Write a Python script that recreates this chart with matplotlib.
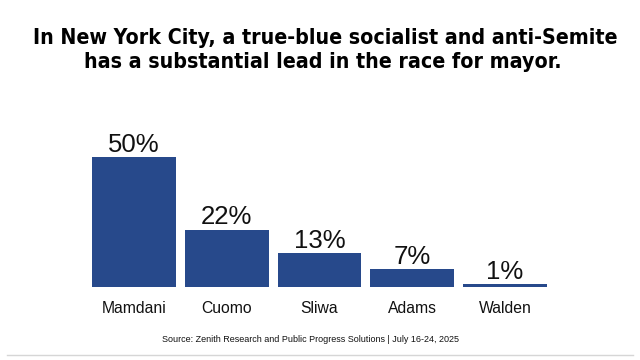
import matplotlib
matplotlib.use("Agg")
import matplotlib.pyplot as plt
from matplotlib.lines import Line2D

# Poll data
candidates = ["Mamdani", "Cuomo", "Sliwa", "Adams", "Walden"]
support = [50, 22, 13, 7, 1]

title_lines = [
    "In New York City, a true-blue socialist and anti-Semite",
    "has a substantial lead in the race for mayor.",
]
source = "Source: Zenith Research and Public Progress Solutions | July 16-24, 2025"

bar_color = "#27498B"
W, H = 640, 360

plt.rcParams["font.family"] = ["Liberation Sans", "DejaVu Sans"]

fig = plt.figure(figsize=(W / 100, H / 100), dpi=100)
fig.patch.set_facecolor("white")

# axes placed so bars span x 92..547 px, baseline at y 286.7 px, 50% at 156.7 px
ax = fig.add_axes([92 / W, 1 - 286.7 / H, (547 - 92) / W, 130 / H])
bw = 84 / 93
x = list(range(len(candidates)))
ax.bar(x, support, width=bw, color=bar_color)
ax.set_xlim(-bw / 2, len(candidates) - 1 + bw / 2)
ax.set_ylim(0, 50)
ax.axis("off")

for i, v in zip(x, support):
    ax.annotate(f"{v}%", xy=(i, v), xytext=(0, 3.6), textcoords="offset points",
                ha="center", va="baseline", fontsize=18.5, color="#111111",
                annotation_clip=False)
for i, name in zip(x, candidates):
    ax.annotate(name, xy=(i, 0), xytext=(0, -19), textcoords="offset points",
                ha="center", va="baseline", fontsize=11.3, color="#111111",
                annotation_clip=False)

# condensed bold headline
title_kw = dict(ha="center", va="baseline", fontsize=15.3, fontweight="bold",
                family="DejaVu Sans", fontstretch="condensed", color="black")
fig.text(325 / W, 1 - 44 / H, title_lines[0], **title_kw)
fig.text(323 / W, 1 - 68 / H, title_lines[1], **title_kw)

fig.text(311 / W, 1 - 342 / H, source, ha="center", va="baseline",
         fontsize=6.5, color="#111111")

fig.add_artist(Line2D([7 / W, 633 / W], [1 - 355 / H, 1 - 355 / H],
                      transform=fig.transFigure, color="#d6d6d6", lw=1))

fig.savefig("out.png", dpi=100, facecolor="white")
